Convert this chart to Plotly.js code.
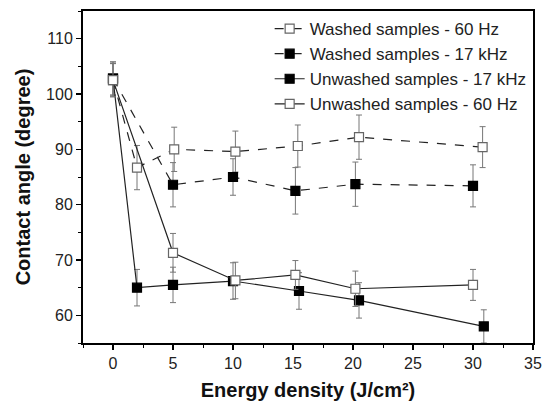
<!DOCTYPE html>
<html><head><meta charset="utf-8">
<script src="https://cdn.plot.ly/plotly-3.0.1.min.js"></script>
<style>body{margin:0;background:#fff}#c{width:543px;height:401px}</style>
</head><body><div id="c"></div>
<script>
const names = ["Washed samples - 60 Hz","Washed samples - 17 kHz","Unwashed samples - 17 kHz","Unwashed samples - 60 Hz"];
const w60x = [0, 2.0, 5.1, 10.2, 15.4, 20.5, 30.8];
const w60y = [102.5, 86.7, 90.0, 89.6, 90.6, 92.2, 90.4];
const w60e = [3.0, 4.0, 4.0, 3.7, 3.8, 4.0, 3.7];
const w17x = [0, 5.0, 10.0, 15.2, 20.2, 30.0];
const w17y = [102.8, 83.6, 85.0, 82.5, 83.7, 83.4];
const w17e = [3.0, 4.0, 3.3, 4.2, 4.0, 3.8];
const u17x = [0, 2.0, 5.0, 10.0, 15.5, 20.5, 30.9];
const u17y = [102.8, 65.0, 65.5, 66.2, 64.4, 62.7, 58.0];
const u17e = [3.0, 3.3, 3.2, 3.3, 3.3, 3.2, 3.0];
const u60x = [0, 5.0, 10.2, 15.2, 20.2, 30.0];
const u60y = [102.5, 71.3, 66.3, 67.3, 64.8, 65.5];
const u60e = [3.0, 3.5, 3.3, 2.6, 3.2, 2.8];
const xTicks = [0,5,10,15,20,25,30,35];
const yTicks = [60,70,80,90,100,110];

function tr(x,y,e,name,dash,filled){
  return {x:x,y:y,name:name,type:'scatter',mode:'lines+markers',
    line:{color:'#222',width:1.2,dash:dash?'dash':'solid'},
    marker:{symbol:'square',size:9,color:filled?'#000':'#fff',line:{color:filled?'#000':'#666',width:1.2}},
    error_y:{type:'data',array:e,visible:true,color:'#777',thickness:1,width:3}};
}
const data = [
  tr(w60x,w60y,w60e,names[0],true,false),
  tr(w17x,w17y,w17e,names[1],true,true),
  tr(u17x,u17y,u17e,names[2],false,true),
  tr(u60x,u60y,u60e,names[3],false,false)
];
const layout = {
  width:543,height:401,margin:{l:83,r:10,t:11,b:58},
  paper_bgcolor:'#fff',plot_bgcolor:'#fff',
  font:{family:'Arial, Liberation Sans, sans-serif',color:'#222'},
  showlegend:true,
  legend:{x:0.997,xanchor:'right',y:1.0,yanchor:'top',bgcolor:'rgba(0,0,0,0)',font:{size:17,color:'#222'},tracegroupgap:0,itemwidth:30},
  xaxis:{range:[-2.5,35],tickvals:xTicks,ticks:'outside',ticklen:5,tickwidth:1.5,tickcolor:'#000',
    minor:{dtick:2.5,ticks:'outside',ticklen:3,tickcolor:'#000',tickwidth:1},
    showline:true,linecolor:'#000',linewidth:2,mirror:true,showgrid:false,zeroline:false,
    tickfont:{size:16,color:'#222'},
    title:{text:'<b>Energy density (J/cm²)</b>',font:{size:20,color:'#111'},standoff:19}},
  yaxis:{range:[55,115],tickvals:yTicks,ticks:'outside',ticklen:5,tickwidth:1.5,tickcolor:'#000',
    minor:{dtick:5,ticks:'outside',ticklen:3,tickcolor:'#000',tickwidth:1},
    showline:true,linecolor:'#000',linewidth:2,mirror:true,showgrid:false,zeroline:false,
    tickfont:{size:16,color:'#222'},
    title:{text:'<b>Contact angle (degree)</b>',font:{size:20,color:'#111'},standoff:10}}
};
Plotly.newPlot('c',data,layout,{displayModeBar:false,staticPlot:true});
</script></body></html>
